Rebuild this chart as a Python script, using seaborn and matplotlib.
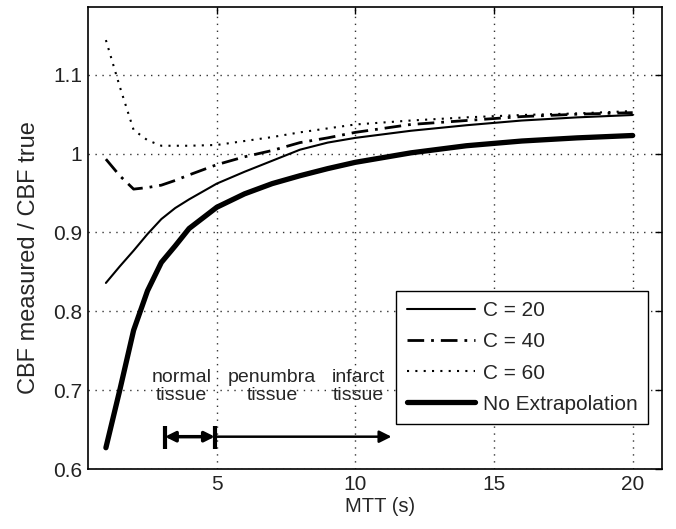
import matplotlib
matplotlib.use("Agg")
import matplotlib.pyplot as plt
import pandas as pd
import seaborn as sns

# values
mtt = [1, 1.5, 2, 2.5, 3, 3.5, 4, 5, 6, 7, 8, 9, 10, 12, 14, 16, 18, 20]
c20 = [0.836, 0.857, 0.877, 0.898, 0.917, 0.931, 0.942, 0.962, 0.977, 0.991,
       1.005, 1.014, 1.020, 1.029, 1.036, 1.042, 1.046, 1.049]
c40 = [0.993, 0.972, 0.955, 0.957, 0.960, 0.966, 0.973, 0.986, 0.996, 1.004,
       1.014, 1.020, 1.027, 1.037, 1.042, 1.047, 1.050, 1.052]
c60 = [1.144, 1.085, 1.030, 1.017, 1.010, 1.010, 1.010, 1.011, 1.016, 1.021,
       1.027, 1.032, 1.037, 1.042, 1.046, 1.049, 1.051, 1.054]
no_extrap = [0.627, 0.700, 0.776, 0.826, 0.862, 0.883, 0.905, 0.932, 0.949, 0.962,
             0.972, 0.981, 0.989, 1.001, 1.010, 1.016, 1.020, 1.023]

series_names = ["C = 20", "C = 40", "C = 60", "No Extrapolation"]
x_ticks = [5, 10, 15, 20]
y_ticks = [0.6, 0.7, 0.8, 0.9, 1.0, 1.1]
y_tick_labels = ["0.6", "0.7", "0.8", "0.9", "1", "1.1"]
region_labels = ["normal\ntissue", "penumbra\ntissue", "infarct\ntissue"]
region_x = [3.74, 7.0, 10.1]

sns.set_style("white")
plt.rcParams["font.family"] = ["Liberation Sans", "DejaVu Sans"]

df = pd.DataFrame({
    "MTT": mtt * 4,
    "ratio": c20 + c40 + c60 + no_extrap,
    "series": [s for s in series_names for _ in mtt],
})

styles = {
    "C = 20": dict(lw=1.5, ls="-"),
    "C = 40": dict(lw=2.0, ls=(0, (6, 2.5, 1, 2.5))),
    "C = 60": dict(lw=1.5, ls=(0, (1, 3))),
    "No Extrapolation": dict(lw=3.8, ls="-"),
}

fig = plt.figure(figsize=(6.76, 5.29), dpi=100)
ax = fig.add_axes([0.130, 0.1134, 0.849, 0.8734])

for name in series_names:
    sub = df[df["series"] == name]
    sns.lineplot(data=sub, x="MTT", y="ratio", ax=ax, color="black",
                 linewidth=styles[name]["lw"], linestyle=styles[name]["ls"],
                 label=name, legend=False)

ax.set_xlim(0.35, 21.05)
ax.set_ylim(0.6, 1.186)
ax.set_xticks(x_ticks)
ax.set_yticks(y_ticks)
ax.set_yticklabels(y_tick_labels)
ax.grid(True, linestyle=(0, (1, 4)), color="#333333", linewidth=1.0)
ax.tick_params(direction="in", length=5, width=1, top=True, right=True,
               labelsize=15, colors="black", labelcolor="#222222", pad=4)
for sp in ax.spines.values():
    sp.set_color("black")
    sp.set_linewidth(1.2)

ax.set_xlabel("MTT (s)", fontsize=14.5)
ax.set_ylabel("CBF measured / CBF true", fontsize=17)
ax.xaxis.set_label_coords(0.509, -0.06)
ax.yaxis.set_label_coords(-0.084, 0.457)

# tissue region annotations
for lab, xp in zip(region_labels, region_x):
    ax.text(xp, 0.705, lab, ha="center", va="center", fontsize=14,
            linespacing=1.05, multialignment="center")

ax.annotate("", xy=(3.13, 0.641), xytext=(4.93, 0.641),
            arrowprops=dict(arrowstyle="<|-|>", lw=2.5, color="black",
                            shrinkA=0, shrinkB=0, mutation_scale=15))
ax.annotate("", xy=(11.3, 0.641), xytext=(4.93, 0.641),
            arrowprops=dict(arrowstyle="-|>", lw=1.8, color="black",
                            shrinkA=0, shrinkB=0, mutation_scale=18))
ax.vlines([3.13, 4.93], 0.626, 0.655, color="black", lw=3)

leg = ax.legend(loc="lower right", bbox_to_anchor=(0.9756, 0.0974),
                fontsize=15, frameon=True, fancybox=False, framealpha=1,
                edgecolor="black", handlelength=3.3, handletextpad=0.35,
                labelspacing=0.58, borderpad=0.5, borderaxespad=0)
leg.get_frame().set_linewidth(1.0)

fig.savefig("out.png", dpi=100)
